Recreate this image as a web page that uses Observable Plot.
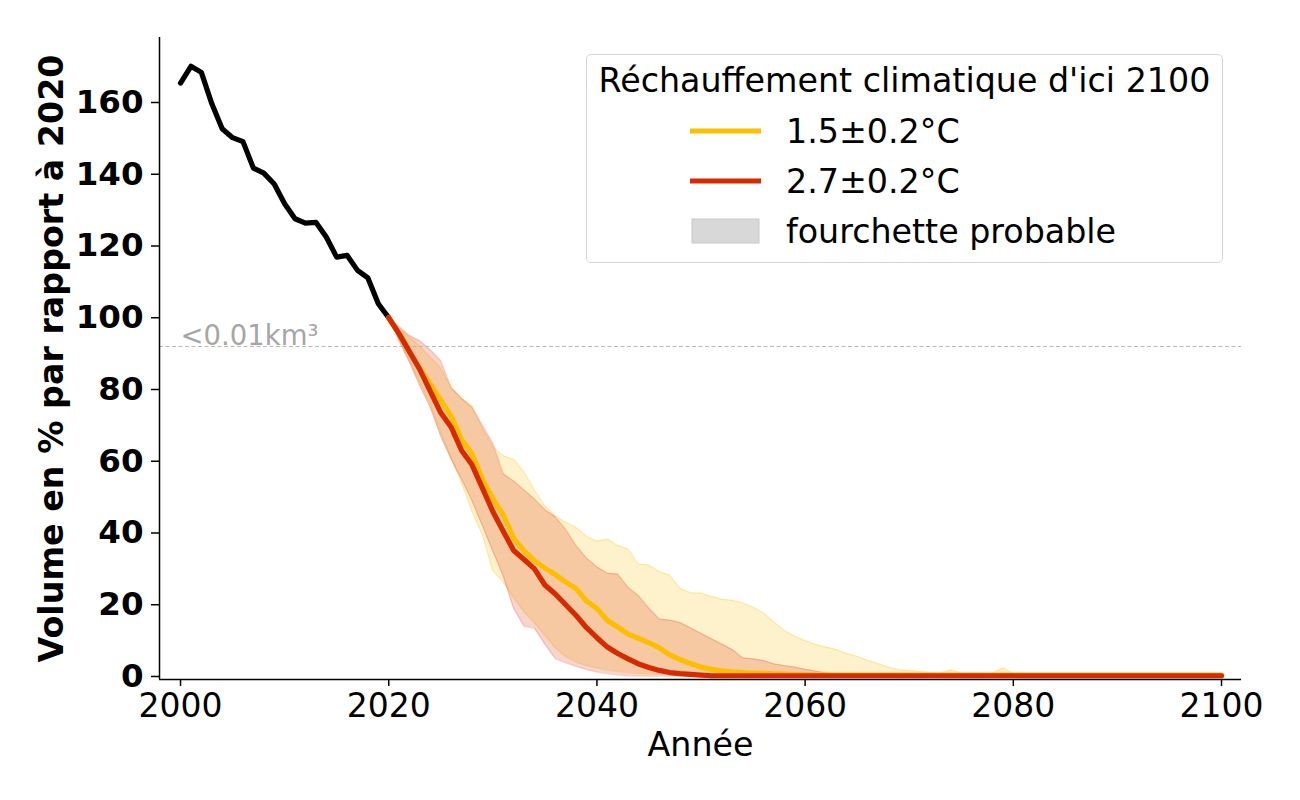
<!DOCTYPE html>
<html>
<head>
<meta charset="utf-8">
<script src="https://cdn.jsdelivr.net/npm/d3@7"></script>
<script src="https://cdn.jsdelivr.net/npm/@observablehq/plot@0.6"></script>
<style>
  html, body { margin: 0; padding: 0; background: #fff; }
  #wrap { position: relative; width: 1300px; height: 800px; font-family: "DejaVu Sans", sans-serif; }
  #legend { position: absolute; left: 586px; top: 54px; width: 637px; height: 209px;
            box-sizing: border-box; border: 1.5px solid #d6d6d6; border-radius: 5px; background: rgba(255,255,255,0.85); }
</style>
</head>
<body>
<div id="wrap"><div id="chart"></div><div id="legend"></div></div>
<script>
// ---- Data ----
const histYears = [2000,2001,2002,2003,2004,2005,2006,2007,2008,2009,2010,2011,2012,2013,2014,2015,2016,2017,2018,2019,2020];
const histValues = [165.4,170.1,168.4,159.7,152.7,150.2,149.1,141.7,140.3,137.3,131.8,127.6,126.4,126.6,122.5,116.9,117.4,113.2,111.1,103.9,100];

const projYears = d3.range(2020, 2101);

// 1.5±0.2°C scenario
const s15Median = [100,95.5,90.5,85.8,81.5,77,72.5,66,62,55,49.5,45,38.5,35,32.2,30.2,28.4,26.3,24.5,21,19,15.6,13.8,11.8,10.6,9.4,8,6,4.7,3.6,2.6,2,1.6,1.3,1.1,0.95,0.85,0.75,0.65,0.55,0.5,
  0.4,0.4,0.4,0.4,0.4,0.4,0.4,0.4,0.4,0.4,0.4,0.4,0.4,0.4,0.4,0.4,0.4,0.4,0.4,0.4,0.4,0.4,0.4,0.4,0.4,0.4,0.4,0.4,0.4,0.4,0.4,0.4,0.4,0.4,0.4,0.4,0.4,0.4,0.4,0.4];
const s15Upper = [100,97,94.5,92,89,86,80.5,77.5,75.5,69,64,61.5,60.5,57,52,47.5,44.8,43,41.5,39,37.7,38.3,36.5,35.5,31.3,31.1,29.2,28.2,24.5,23.3,23.2,22.3,21.5,21.2,20.5,19.3,17.7,15.2,12.8,11.2,10,
  8.9,8.2,7.5,6.4,5.6,4.5,3.6,2.6,1.9,1.6,1.4,1.1,0.9,1.9,0.9,0.8,0.8,0.9,2.4,0.8,
  0.5,0.5,0.5,0.5,0.5,0.5,0.5,0.5,0.5,0.5,0.5,0.5,0.5,0.5,0.5,0.5,0.5,0.5,0.5,0.5];
const s15Lower = [100,94,88,82,76,68,61,54,46,39.5,29.5,26.3,22,18,15,11.5,8,5.5,4,3,2.4,1.8,1.4,1.1,0.9,0.7,0.6,0.5,0.4,0.3,
  0.2,0.2,0.2,0.2,0.2,0.2,0.2,0.2,0.2,0.2,0.2,0.2,0.2,0.2,0.2,0.2,0.2,0.2,0.2,0.2,0.2,0.2,0.2,0.2,0.2,0.2,0.2,0.2,0.2,0.2,0.2,0.2,0.2,0.2,0.2,0.2,0.2,0.2,0.2,0.2,0.2,0.2,0.2,0.2,0.2,0.2,0.2,0.2,0.2,0.2,0.2];

// 2.7±0.2°C scenario
const s27Median = [100,95.5,90.5,85.5,79.5,73.5,69.5,63,59,52.5,46,40.5,35.1,32.6,30,25.5,23,20,17,13.6,10.8,8.2,6.4,4.9,3.5,2.5,1.7,1.1,0.8,0.6,0.4,
  0.2,0.2,0.2,0.2,0.2,0.2,0.2,0.2,0.2,0.2,0.2,0.2,0.2,0.2,0.2,0.2,0.2,0.2,0.2,0.2,0.2,0.2,0.2,0.2,0.2,0.2,0.2,0.2,0.2,0.2,0.2,0.2,0.2,0.2,0.2,0.2,0.2,0.2,0.2,0.2,0.2,0.2,0.2,0.2,0.2,0.2,0.2,0.2,0.2,0.2];
const s27Upper = [100,97.5,95,93.5,91,88,80.5,77.5,75,70,65,56.5,54.5,52,49.5,46.5,44.5,41,36.5,33,30.5,28.8,28.5,24.8,22.5,19,16,15.7,15,13.5,12,10.5,9,7.5,5.2,4.9,4.4,3.5,3,2.6,2,1.5,1,0.7,0.5,
  0.3,0.3,0.3,0.3,0.3,0.3,0.3,0.3,0.3,0.3,0.3,0.3,0.3,0.3,0.3,0.3,0.3,0.3,0.3,0.3,0.3,0.3,0.3,0.3,0.3,0.3,0.3,0.3,0.3,0.3,0.3,0.3,0.3,0.3,0.3,0.3];
const s27Lower = [100,93.5,87.5,81,75,67,60.5,55,49,42,35,28,19,14,13.5,9,5,3.8,2.8,1.9,1.2,0.8,0.4,0.2,
  0.1,0.1,0.1,0.1,0.1,0.1,0.1,0.1,0.1,0.1,0.1,0.1,0.1,0.1,0.1,0.1,0.1,0.1,0.1,0.1,0.1,0.1,0.1,0.1,0.1,0.1,0.1,0.1,0.1,0.1,0.1,0.1,0.1,0.1,0.1,0.1,0.1,0.1,0.1,0.1,0.1,0.1,0.1,0.1,0.1,0.1,0.1,0.1,0.1,0.1,0.1,0.1,0.1,0.1,0.1,0.1,0.1];

const xTicks = [2000,2020,2040,2060,2080,2100];
const yTicks = [0,20,40,60,80,100,120,140,160];
const thresholdValue = [92];
const thresholdLabel = "<0.01km³";
const yLabel = "Volume en % par rapport à 2020";
const xLabel = "Année";
const legendTitle = "Réchauffement climatique d'ici 2100";
const seriesNames = ["1.5±0.2°C", "2.7±0.2°C"];
const bandName = "fourchette probable";

const YELLOW = "#fcbf00", RED = "#d62a00";

// ---- Build tables ----
const hist = histYears.map((year, i) => ({year, v: histValues[i]}));
const proj = projYears.map((year, i) => ({
  year, m15: s15Median[i], hi15: s15Upper[i], lo15: s15Lower[i],
  m27: s27Median[i], hi27: s27Upper[i], lo27: s27Lower[i]
}));

const xDomain = [1997.98, 2101.92];
const yDomain = [-0.84, 178.12];

const chart = Plot.plot({
  width: 1300, height: 800,
  marginLeft: 159, marginRight: 59, marginTop: 37, marginBottom: 121,
  style: {fontFamily: "DejaVu Sans", background: "white", overflow: "visible"},
  x: {domain: xDomain},
  y: {domain: yDomain},
  marks: [
    // bands
    Plot.areaY(proj, {x: "year", y1: "lo15", y2: "hi15", fill: YELLOW, fillOpacity: 0.2, curve: "linear"}),
    Plot.line(proj, {x: "year", y: "hi15", stroke: YELLOW, strokeOpacity: 0.25, strokeWidth: 1.3}),
    Plot.line(proj, {x: "year", y: "lo15", stroke: YELLOW, strokeOpacity: 0.25, strokeWidth: 1.3}),
    Plot.areaY(proj, {x: "year", y1: "lo27", y2: "hi27", fill: RED, fillOpacity: 0.2, curve: "linear"}),
    Plot.line(proj, {x: "year", y: "hi27", stroke: RED, strokeOpacity: 0.2, strokeWidth: 1.3}),
    Plot.line(proj, {x: "year", y: "lo27", stroke: RED, strokeOpacity: 0.2, strokeWidth: 1.3}),
    // threshold
    Plot.ruleY(thresholdValue, {stroke: "#b5b5b5", strokeWidth: 1, strokeDasharray: "4,2.5"}),
    Plot.text([thresholdLabel], {x: () => histYears[0], y: () => thresholdValue[0], text: d => d,
      textAnchor: "start", fontSize: 27.5, fill: "#a6a6a6", dy: -10}),
    // lines
    Plot.line(hist, {x: "year", y: "v", stroke: "black", strokeWidth: 5.2}),
    Plot.line(proj, {x: "year", y: "m15", stroke: YELLOW, strokeWidth: 5.2}),
    Plot.line(proj, {x: "year", y: "m27", stroke: RED, strokeWidth: 5.2}),
    // spines
    Plot.ruleX([xDomain[0]], {stroke: "black", strokeWidth: 1.5}),
    Plot.ruleY([yDomain[0]], {stroke: "black", strokeWidth: 1.5}),
    // axes
    Plot.axisY({ticks: yTicks, tickSize: 8, tickPadding: 8, fontSize: 32.5, fontWeight: "bold",
      strokeWidth: 1.5, label: null, tickFormat: d => String(d), fill: "black"}),
    Plot.axisX({ticks: xTicks, tickSize: 7, tickPadding: 7, fontSize: 33,
      strokeWidth: 1.5, label: null, tickFormat: d => String(d), fill: "black"}),
    Plot.text([yLabel], {frameAnchor: "left", textAnchor: "middle", text: d => d, rotate: -90, dx: -107,
      fontSize: 33.3, fontWeight: "bold", fill: "black"}),
    Plot.text([xLabel], {frameAnchor: "bottom", text: d => d, lineAnchor: "top", dy: 53,
      fontSize: 33.3, fill: "black"})
  ]
});
document.getElementById("chart").appendChild(chart);

// ---- Legend ----
const lg = d3.select("#legend").append("svg").attr("width", 637).attr("height", 209)
  .style("position", "absolute").style("left", "-1.5px").style("top", "-1.5px")
  .style("font-family", "DejaVu Sans");
lg.append("text").attr("x", 318.5).attr("y", 38).attr("text-anchor", "middle")
  .attr("font-size", 33.3).attr("fill", "black").text(legendTitle);
const entries = [
  {type: "line", color: YELLOW, label: seriesNames[0], y: 77},
  {type: "line", color: RED, label: seriesNames[1], y: 127},
  {type: "patch", color: "#d8d8d8", label: bandName, y: 177}
];
for (const e of entries) {
  if (e.type === "line") {
    lg.append("line").attr("x1", 104).attr("x2", 175).attr("y1", e.y).attr("y2", e.y)
      .attr("stroke", e.color).attr("stroke-width", 5);
  } else {
    lg.append("rect").attr("x", 106).attr("y", e.y - 12).attr("width", 67).attr("height", 24)
      .attr("fill", e.color).attr("stroke", "#c8c8c8").attr("stroke-width", 1);
  }
  lg.append("text").attr("x", 200).attr("y", e.y + 12).attr("font-size", 33.3)
    .attr("fill", "black").text(e.label);
}
</script>
</body>
</html>
